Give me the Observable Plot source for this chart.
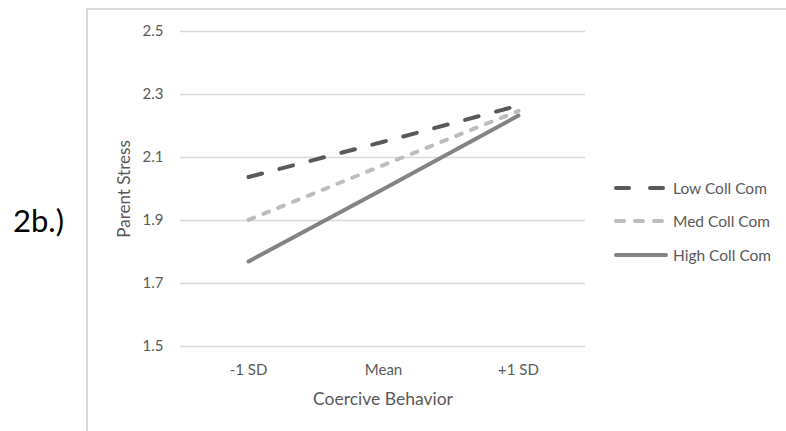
<!DOCTYPE html>
<html><head><meta charset="utf-8">
<script src="https://cdn.jsdelivr.net/npm/d3@7"></script>
<script src="https://cdn.jsdelivr.net/npm/@observablehq/plot@0.6"></script>
<style>
body{margin:0;background:#fff;font-family:Lato,"Open Sans",sans-serif;}
#wrap{position:relative;width:786px;height:431px;overflow:hidden;}
#frame{position:absolute;left:86px;top:8px;width:800px;height:500px;border-left:2px solid #d9d9d9;border-top:2px solid #d9d9d9;box-sizing:border-box;}
#tag{position:absolute;left:13px;top:205px;font-size:31px;color:#000;line-height:1;}
#legend{position:absolute;left:614px;top:171px;}
.item{display:flex;align-items:center;height:33.5px;font-size:15.5px;color:#595959;}
.item svg{margin-right:5px;}
#chart{position:absolute;left:0;top:0;}
</style>
</head><body>
<div id="wrap">
  <div id="frame"></div>
  <div id="chart"></div>
  <div id="tag">2b.)</div>
  <div id="legend"></div>
</div>
<script>
const categories = ["-1 SD", "Mean", "+1 SD"];
const seriesNames = ["Low Coll Com", "Med Coll Com", "High Coll Com"];
const lowValues = [2.038, 2.150, 2.265];
const medValues = [1.902, 2.076, 2.248];
const highValues = [1.770, 2.000, 2.233];
const yTicks = [1.5, 1.7, 1.9, 2.1, 2.3, 2.5];

const seriesColors = ["#595959", "#bdbdbd", "#838383"];
const seriesDash = ["14,18", "6,10", null];

const valuesBySeries = [lowValues, medValues, highValues];
const rows = [];
seriesNames.forEach((s, i) => categories.forEach((c, j) => rows.push({series: s, cat: c, value: valuesBySeries[i][j]})));

const lineMarks = seriesNames.map((s, i) => Plot.line(rows.filter(r => r.series === s), {
  x: "cat", y: "value", stroke: seriesColors[i], strokeWidth: 4,
  strokeDasharray: seriesDash[i] || undefined, strokeLinecap: "round"
}));

const chart = Plot.plot({
  width: 786, height: 431,
  marginLeft: 180, marginRight: 201, marginTop: 31, marginBottom: 85,
  style: {fontFamily: "Lato, 'Open Sans', sans-serif", background: "transparent"},
  x: {type: "point", domain: categories, padding: 0.5},
  y: {domain: [1.5, 2.5]},
  marks: [
    Plot.ruleY(yTicks, {stroke: "#d9d9d9", strokeWidth: 1.5}),
    Plot.axisY({ticks: yTicks, tickSize: 0, tickPadding: 17, tickFormat: d3.format(".1f"),
      label: null, fontSize: 15, color: "#595959"}),
    Plot.axisY({ticks: [], tickSize: 0, label: "Parent Stress", labelAnchor: "center", labelArrow: "none",
      labelOffset: 63, fontSize: 17, color: "#595959"}),
    Plot.axisX({tickSize: 0, tickPadding: 18, label: null, fontSize: 15, color: "#595959"}),
    Plot.axisX({ticks: [], tickSize: 0, label: "Coercive Behavior", labelAnchor: "center",
      labelArrow: "none", labelOffset: 58, fontSize: 17.5, color: "#595959"}),
    ...lineMarks
  ]
});
document.getElementById("chart").appendChild(chart);

const legend = document.getElementById("legend");
seriesNames.forEach((s, i) => {
  const row = document.createElement("div");
  row.className = "item";
  const dash = i === 0 ? "13,21" : i === 1 ? "8,11" : null;
  row.innerHTML = `<svg width="54" height="8"><line x1="2" y1="4" x2="52" y2="4" stroke="${seriesColors[i]}" stroke-width="4" stroke-linecap="round" ${dash ? `stroke-dasharray="${dash}"` : ""}/></svg><span>${s}</span>`;
  legend.appendChild(row);
});
</script>
</body></html>
